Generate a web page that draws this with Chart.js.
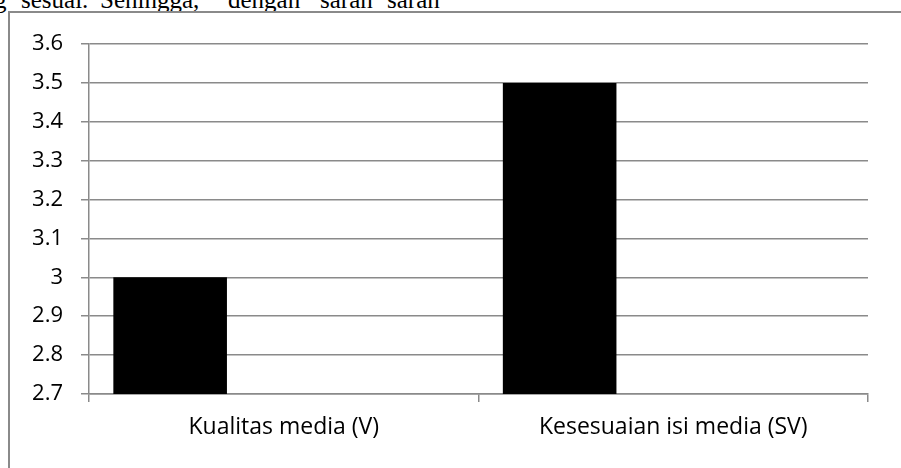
<!DOCTYPE html>
<html lang="id">
<head>
    <meta charset="UTF-8">
    <title>Kualitas media</title>
    <script src="https://cdn.jsdelivr.net/npm/chart.js"></script>
    <style>
        * { margin: 0; padding: 0; box-sizing: border-box; }
        body { width: 901px; height: 468px; background: #fff; overflow: hidden; position: relative; }
        .doc-text span { position: absolute; top: -15px; font-family: 'Liberation Serif', serif; font-size: 25px; line-height: 30px; color: #000; white-space: nowrap; }
        .frame { position: absolute; left: 8px; top: 11px; width: 900px; height: 470px; border-left: 2px solid #8a8a8a; border-top: 2px solid #8a8a8a; z-index: 2; pointer-events: none; }
        .chart-box { position: absolute; left: 0; top: 0; width: 901px; height: 468px; z-index: 1; }
    </style>
</head>
<body>

<div class="doc-text">
    <span style="left:-6px">g</span>
    <span style="left:21px">sesuai.</span>
    <span style="left:100px">Sehingga,</span>
    <span style="left:228px">dengan</span>
    <span style="left:320px">saran</span>
    <span style="left:387px">saran</span>
</div>
<div class="chart-box">
    <canvas id="barChart" width="901" height="468"></canvas>
</div>
<div class="frame"></div>

<script>
    // data
    const categories = ['Kualitas media (V)', 'Kesesuaian isi media (SV)'];
    const seriesValues = [3.0, 3.5];
    const emptySeries = [null, null];
    const yTicks = [2.7, 2.8, 2.9, 3, 3.1, 3.2, 3.3, 3.4, 3.5, 3.6];

    const gridGray = '#8a8a8a';
    const fontFamily = '"Open Sans", "Noto Sans", sans-serif';

    const ctx = document.getElementById('barChart').getContext('2d');
    new Chart(ctx, {
        type: 'bar',
        data: {
            labels: categories,
            datasets: [
                { label: 'Series 1', data: seriesValues, backgroundColor: '#000', borderWidth: 0 },
                { label: 'Series 2', data: emptySeries, backgroundColor: '#000' },
                { label: 'Series 3', data: emptySeries, backgroundColor: '#000' }
            ]
        },
        options: {
            responsive: false,
            animation: false,
            devicePixelRatio: 1,
            layout: { padding: { left: 0, top: 44, right: 33, bottom: 0 } },
            plugins: { legend: { display: false }, tooltip: { enabled: false } },
            datasets: { bar: { categoryPercentage: 0.875, barPercentage: 1.0 } },
            scales: {
                x: {
                    grid: { offset: true, drawOnChartArea: false, drawTicks: true, tickLength: 8, color: gridGray, lineWidth: 1.5 },
                    border: { color: gridGray, width: 1.5 },
                    ticks: { color: '#000', font: { family: fontFamily, size: 23 }, padding: 12, maxRotation: 0 },
                    afterFit: (scale) => { scale.height = 74; }
                },
                y: {
                    min: 2.7,
                    max: 3.6,
                    afterBuildTicks: (scale) => { scale.ticks = yTicks.map(v => ({ value: v })); },
                    grid: { color: gridGray, lineWidth: 1.5, tickLength: 8 },
                    border: { color: gridGray, width: 1.5 },
                    ticks: { color: '#000', font: { family: fontFamily, size: 22 }, padding: 18, callback: (v) => String(Math.round(v * 10) / 10) },
                    afterFit: (scale) => { scale.width = 89; }
                }
            }
        }
    });
</script>

</body>
</html>
